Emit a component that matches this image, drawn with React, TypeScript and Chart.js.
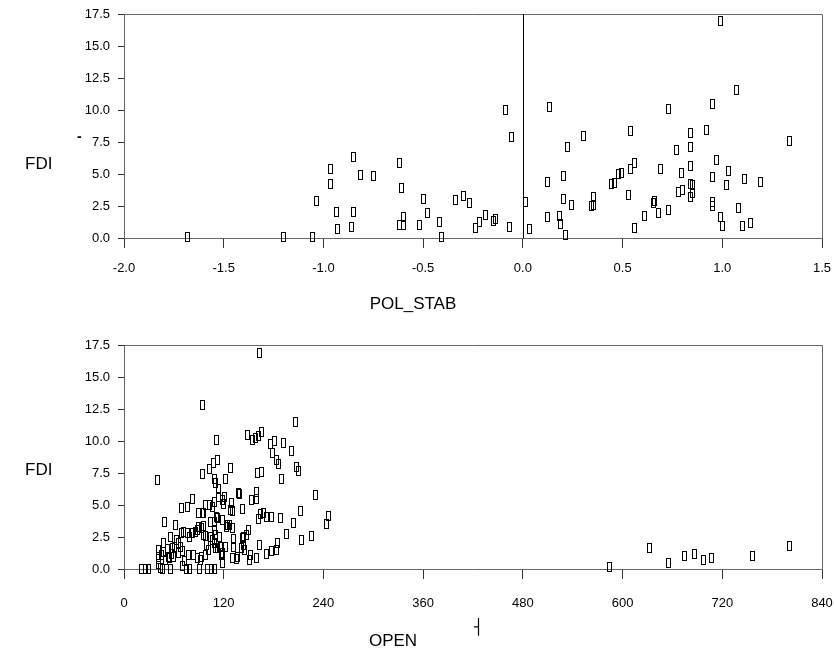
import React, { useEffect, useRef } from 'react';
import { Chart, registerables } from 'chart.js';

Chart.register(...registerables);

// ---------- data ----------
const polStab = [
  -1.68, -1.2, -1.056, -1.036, -0.967, -0.967, -0.935, -0.927, -0.848, -0.815, -0.848, -0.857, -0.748,
  -0.618, -0.608, -0.62, -0.597, -0.6, -0.517, -0.497, -0.477, -0.417, -0.407, -0.339, -0.298, -0.268,
  -0.236, -0.218, -0.186, -0.148, -0.136, -0.068, -0.088, -0.059, 0.012, 0.032, 0.122, 0.122, 0.132,
  0.182, 0.189, 0.202, 0.202, 0.212, 0.222, 0.242, 0.302, 0.342, 0.352, 0.352, 0.442, 0.461, 0.482,
  0.494, 0.532, 0.541, 0.542, 0.562, 0.562, 0.611, 0.654, 0.662, 0.681, 0.689, 0.731, 0.731, 0.771,
  0.779, 0.793, 0.802, 0.842, 0.842, 0.842, 0.842, 0.842, 0.852, 0.852, 0.922, 0.95, 0.95, 0.95, 0.952,
  0.97, 0.992, 0.992, 1.002, 1.022, 1.032, 1.07, 1.082, 1.1, 1.11, 1.142, 1.192, 1.339,
];
const fdiTop = [
  0.1, 0.1, 0.1, 2.87, 5.37, 4.22, 2.05, 0.68, 6.3, 4.92, 2.03, 0.88, 4.87,
  5.83, 3.9, 1.04, 1.67, 1.04, 0.99, 3.02, 1.93, 1.27, 0.1, 2.97, 3.3, 2.73,
  0.76, 1.22, 1.8, 1.35, 1.46, 0.88, 10.0, 7.9, 2.81, 0.7, 4.38, 1.67, 10.2,
  1.72, 1.09, 4.84, 3.02, 0.23, 7.08, 2.6, 7.94, 2.5, 3.23, 2.58, 4.24, 4.32, 4.97,
  5.08, 3.33, 8.33, 5.42, 5.83, 0.76, 1.72, 2.73, 2.92, 1.93, 5.37, 2.19, 10.1, 6.88,
  3.6, 5.05, 3.75, 8.23, 7.08, 5.65, 4.19, 3.23, 4.14, 3.54, 8.46, 10.47, 4.74, 2.81, 2.52,
  6.09, 16.93, 1.61, 0.94, 4.11, 5.21, 11.54, 2.34, 0.96, 4.64, 1.2, 4.35, 7.6,
];

const openVals = [
  21, 26, 30, 44, 46, 56, 71, 75, 79, 91, 101, 105, 109, 42,
  40, 94, 111, 94, 103, 108, 113, 109, 110, 122, 128, 114,
  69, 76, 82, 90, 94, 96, 98, 103, 106, 109, 114, 118, 120, 128, 131, 138, 143, 111, 109, 104, 113, 118, 121,
  49, 62, 69, 72, 76, 79, 83, 86, 88, 90, 93, 96, 96, 98, 104, 109, 110, 115, 124, 130, 127, 123,
  56, 66, 61, 58, 68, 41, 41, 48, 50, 53, 55, 60, 65, 78, 84, 88, 92, 93, 98, 102, 109, 110, 113, 116,
  117, 118, 122, 130, 135, 132, 42, 99, 107, 119, 143, 147, 137, 145,
  45, 52, 57, 63, 70, 47, 73,
  163, 206, 149, 155, 158, 162, 166, 176, 181, 179, 192, 202, 184, 186, 208, 210, 161, 166, 189, 230,
  139, 159, 159, 153, 129, 164, 168, 162, 171, 178, 188, 212, 204, 246, 244, 132, 144, 150, 144, 141,
  163, 185, 196, 214, 226, 184, 177, 171, 160, 152, 151,
  584, 633, 655, 675, 687, 697, 707, 756, 801,
];
const fdiBottom = [
  0, 0, 0, 0.05, 0, 0, 0.2, 0, 0, 0, 0, 0, 0, 0.4,
  6.95, 12.8, 10.08, 7.42, 7.81, 8.26, 8.52, 7.0, 6.74, 7.0, 7.89, 6.23,
  4.74, 4.82, 5.44, 4.35, 4.35, 4.4, 5.0, 5.0, 4.87, 5.26, 5.65, 5.39, 5.05, 4.61, 4.53, 5.91, 4.66, 4.09, 3.7, 3.7, 3.96, 3.83, 5.6,
  3.65, 3.44, 2.84, 2.92, 2.79, 2.53, 2.79, 2.89, 3.05, 3.31, 3.18, 3.36, 2.66, 2.58, 2.53, 3.05, 2.66, 2.53, 3.44, 3.18, 3.44, 3.26,
  2.47, 2.05, 1.69, 1.61, 1.74, 1.48, 0.91, 1.35, 0.7, 0.96, 0.83, 0.91, 1.22, 1.07, 1.07, 0.83, 0.7, 0.91, 1.09, 1.48, 2.0, 1.61, 1.61, 1.74,
  1.09, 0.44, 1.74, 0.83, 0.78, 1.74, 0.76, 1.88, 2.27, 1.22, 2.4, 2.66, 0.96, 1.48,
  1.1, 1.6, 1.2, 2.3, 1.4, 2.0, 0.6,
  16.85, 11.46, 10.5, 10.1, 10.2, 10.4, 10.7, 9.77, 9.97, 9.04, 9.82, 9.22, 8.5, 8.2, 7.99, 7.68, 7.5, 7.58, 7.03, 5.8,
  5.86, 6.04, 5.44, 5.39, 5.18, 4.32, 4.4, 3.88, 4.04, 4.04, 4.01, 4.53, 3.62, 4.14, 3.52, 2.34, 2.52, 3.05, 1.88, 1.64,
  1.85, 2.05, 2.71, 2.27, 2.6, 1.48, 1.41, 1.17, 0.83, 1.12, 0.73,
  0.16, 1.64, 0.47, 0.99, 1.17, 0.68, 0.86, 0.99, 1.82,
];

const fdiTicks = [0, 2.5, 5.0, 7.5, 10.0, 12.5, 15.0, 17.5];
const polStabTicks = [-2.0, -1.5, -1.0, -0.5, 0.0, 0.5, 1.0, 1.5];
const openTicks = [0, 120, 240, 360, 480, 600, 720, 840];

// ---------- helpers ----------
const TICK_FONT = { family: "'Liberation Sans Narrow', 'Arial Narrow', 'Liberation Sans', sans-serif", size: 13 };
const TITLE_FONT = "'Liberation Sans', Arial, sans-serif";

function makeMarker(): HTMLCanvasElement {
  const c = document.createElement('canvas');
  c.width = 5;
  c.height = 10;
  const g = c.getContext('2d')!;
  g.strokeStyle = '#000';
  g.lineWidth = 1;
  g.strokeRect(0.5, 0.5, 4, 9);
  return c;
}

const framePlugin = (zeroLine: boolean) => ({
  id: 'frame' + (zeroLine ? 'Z' : ''),
  beforeDatasetsDraw(chart: any) {
    const { ctx, chartArea } = chart;
    const { left, right, top, bottom } = chartArea;
    ctx.save();
    ctx.lineWidth = 1;
    ctx.strokeStyle = '#666';
    ctx.beginPath();
    ctx.moveTo(Math.round(left), Math.round(top) + 0.5);
    ctx.lineTo(Math.round(right) + 0.5, Math.round(top) + 0.5);
    ctx.lineTo(Math.round(right) + 0.5, Math.round(bottom));
    ctx.stroke();
    if (zeroLine) {
      const x = Math.round(chart.scales.x.getPixelForValue(0)) + 0.5;
      ctx.strokeStyle = '#000';
      ctx.beginPath();
      ctx.moveTo(x, top);
      ctx.lineTo(x, bottom);
      ctx.stroke();
    }
    ctx.restore();
    ctx.imageSmoothingEnabled = false;
  },
});

function buildConfig(
  xs: number[],
  ys: number[],
  xTicks: number[],
  xFmt: (v: number) => string,
  padTop: number,
  xHeight: number,
  xPad: number,
  zeroLine: boolean
): any {
  const pts = xs.map((x, i) => ({ x, y: ys[i] }));
  return {
    type: 'scatter',
    data: {
      datasets: [
        {
          data: pts,
          pointStyle: makeMarker(),
          pointRadius: 3,
          clip: false,
        },
      ],
    },
    options: {
      responsive: false,
      animation: false,
      events: [],
      layout: { padding: { left: 0, right: 12, top: padTop, bottom: 0 } },
      plugins: { legend: { display: false }, tooltip: { enabled: false } },
      scales: {
        x: {
          type: 'linear',
          min: xTicks[0],
          max: xTicks[xTicks.length - 1],
          afterBuildTicks: (s: any) => {
            s.ticks = xTicks.map((v) => ({ value: v }));
          },
          afterFit: (s: any) => {
            s.height = xHeight;
            s.paddingLeft = 0;
            s.paddingRight = 0;
          },
          grid: { display: true, drawOnChartArea: false, drawTicks: true, tickLength: 10, color: '#333' },
          border: { display: true, color: '#666', width: 1 },
          ticks: {
            font: TICK_FONT,
            color: '#000',
            padding: xPad,
            maxRotation: 0,
            autoSkip: false,
            callback: (v: any) => xFmt(Number(v)),
          },
        },
        y: {
          type: 'linear',
          min: fdiTicks[0],
          max: fdiTicks[fdiTicks.length - 1],
          afterBuildTicks: (s: any) => {
            s.ticks = fdiTicks.map((v) => ({ value: v }));
          },
          afterFit: (s: any) => {
            s.width = 124;
            s.paddingTop = 0;
            s.paddingBottom = 0;
          },
          grid: { display: true, drawOnChartArea: false, drawTicks: true, tickLength: 6, color: '#333' },
          border: { display: true, color: '#666', width: 1 },
          ticks: {
            font: TICK_FONT,
            color: '#000',
            padding: 8,
            autoSkip: false,
            callback: (v: any) => Number(v).toFixed(1),
          },
        },
      },
    },
    plugins: [framePlugin(zeroLine)],
  };
}

const abs = (left: number, top: number, extra: React.CSSProperties = {}): React.CSSProperties => ({
  position: 'absolute',
  left,
  top,
  fontFamily: TITLE_FONT,
  fontSize: 17,
  lineHeight: '17px',
  color: '#000',
  whiteSpace: 'nowrap',
  ...extra,
});

export default function App() {
  const topRef = useRef<HTMLCanvasElement>(null);
  const botRef = useRef<HTMLCanvasElement>(null);

  useEffect(() => {
    const c1 = new Chart(
      topRef.current!,
      buildConfig(polStab, fdiTop, polStabTicks, (v) => v.toFixed(1), 14, 82, 13, true)
    );
    const c2 = new Chart(
      botRef.current!,
      buildConfig(openVals, fdiBottom, openTicks, (v) => String(Math.round(v)), 25, 90, 17, false)
    );
    return () => {
      c1.destroy();
      c2.destroy();
    };
  }, []);

  return (
    <div style={{ position: 'absolute', left: 0, top: 0, width: 834, height: 659, background: '#fff', overflow: 'hidden' }}>
      <canvas ref={topRef} width={834} height={320} style={{ position: 'absolute', left: 0, top: 0, width: 834, height: 320 }} />
      <canvas ref={botRef} width={834} height={339} style={{ position: 'absolute', left: 0, top: 320, width: 834, height: 339 }} />
      <div style={abs(25, 155)}>FDI</div>
      <div style={abs(25, 461)}>FDI</div>
      <div style={abs(313, 295, { width: 200, textAlign: 'center' })}>POL_STAB</div>
      <div style={abs(293, 632, { width: 200, textAlign: 'center' })}>OPEN</div>
      <div style={abs(77, 129, { fontSize: 14, lineHeight: '14px', fontWeight: 'bold' })}>-</div>
      <div style={abs(474, 620, { fontSize: 15, lineHeight: '15px', fontFamily: "'DejaVu Sans', sans-serif" })}>┤</div>
    </div>
  );
}
